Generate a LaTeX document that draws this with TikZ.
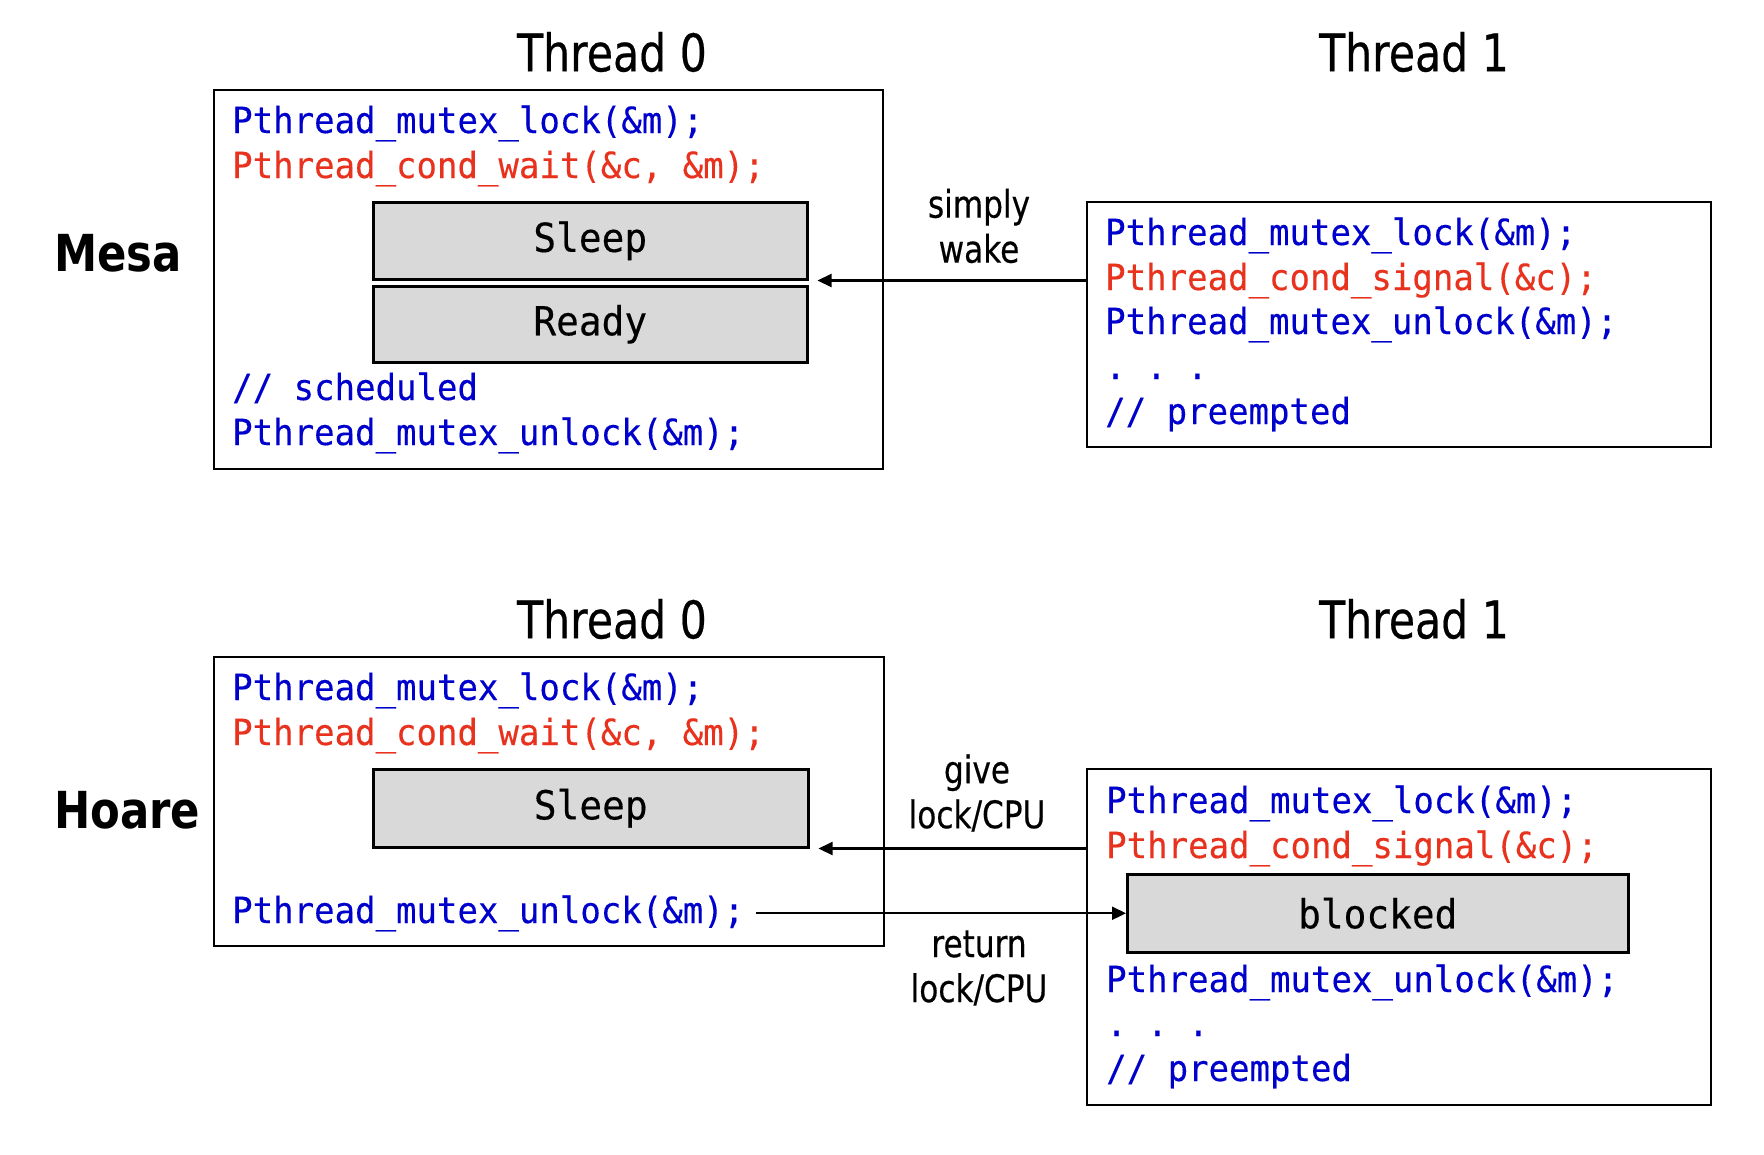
\documentclass[tikz,border=0pt]{standalone}
\usepackage{fontspec}
\newfontfamily\codefont[FakeStretch=0.945,FakeBold=0.3]{DejaVu Sans Mono}
\newfontfamily\labfont[FakeStretch=0.82,FakeBold=0.4]{DejaVu Sans}
\newfontfamily\headfont[FakeStretch=0.85]{DejaVu Sans Bold}
\usetikzlibrary{arrows.meta}
\definecolor{codeblue}{RGB}{0,0,204}
\definecolor{codered}{RGB}{232,50,30}
\definecolor{boxgray}{RGB}{217,217,217}
\newcommand{\dotsline}{.\kern20.5pt.\kern20.5pt.}
\tikzset{
  frame/.style={draw=black, line width=2pt, rectangle, inner sep=0pt, anchor=north west},
  graybox/.style={draw=black, line width=2.5pt, fill=boxgray, rectangle, inner sep=0pt, anchor=north west, text=black, font=\codefont\fontsize{40}{44}\selectfont},
  codeline/.style={anchor=base west, inner sep=0pt, font=\codefont\fontsize{36}{40}\selectfont},
  blueline/.style={codeline, text=codeblue},
  redline/.style={codeline, text=codered},
  threadtitle/.style={inner sep=0pt, font=\labfont\fontsize{52}{60}\selectfont},
  headlabel/.style={inner sep=0pt, anchor=west, font=\headfont\fontsize{51}{60}\selectfont},
  arrlabel/.style={inner sep=0pt, align=center, font=\labfont\fontsize{38}{45}\selectfont},
  arr/.style={line width=2.2pt, -{Triangle[length=14pt,width=13pt]}},
}
\begin{document}
\begin{tikzpicture}[x=1pt,y=-1pt]
\useasboundingbox (0,0) rectangle (1764,1154);
% ---------------- Mesa ----------------
\node[threadtitle] (mt0) at (612,52) {Thread 0};
\node[threadtitle] (mt1) at (1414,52) {Thread 1};
\node[headlabel] (mesa) at (54,253) {Mesa};
\node[frame, minimum width=669pt, minimum height=379pt] (m0) at (213,89) {};
\node[blueline] (m0a) at (232,133) {Pthread\_mutex\_lock(\&m);};
\node[redline] (m0b) at (232,178) {Pthread\_cond\_wait(\&c, \&m);};
\node[graybox, minimum width=434pt, minimum height=77pt] (msleep) at (372,201) {Sleep};
\node[graybox, minimum width=434pt, minimum height=76pt] (mready) at (372,285) {Ready};
\node[blueline] (m0c) at (232,400) {// scheduled};
\node[blueline] (m0d) at (232,445) {Pthread\_mutex\_unlock(\&m);};
\node[frame, minimum width=624pt, minimum height=245pt] (m1) at (1086,201) {};
\node[blueline] (m1a) at (1105,245) {Pthread\_mutex\_lock(\&m);};
\node[redline] (m1b) at (1105,290) {Pthread\_cond\_signal(\&c);};
\node[blueline] (m1c) at (1105,334) {Pthread\_mutex\_unlock(\&m);};
\node[blueline] (m1d) at (1105,379) {\dotsline};
\node[blueline] (m1e) at (1105,424) {// preempted};
\node[arrlabel] (wake) at (979,226) {simply\\wake};
\draw[arr] (m1.west |- msleep.south) -- ([xshift=9pt]msleep.south east);
% ---------------- Hoare ----------------
\node[threadtitle] (ht0) at (612,619) {Thread 0};
\node[threadtitle] (ht1) at (1414,619) {Thread 1};
\node[headlabel] (hoare) at (54,810) {Hoare};
\node[frame, minimum width=670pt, minimum height=289pt] (h0) at (213,656) {};
\node[blueline] (h0a) at (232,700) {Pthread\_mutex\_lock(\&m);};
\node[redline] (h0b) at (232,745) {Pthread\_cond\_wait(\&c, \&m);};
\node[graybox, minimum width=435pt, minimum height=78pt] (hsleep) at (372,768) {Sleep};
\node[blueline] (hunlock) at (232,923) {Pthread\_mutex\_unlock(\&m);};
\node[frame, minimum width=624pt, minimum height=336pt] (h1) at (1086,768) {};
\node[blueline] (h1a) at (1106,813) {Pthread\_mutex\_lock(\&m);};
\node[redline] (h1b) at (1106,858) {Pthread\_cond\_signal(\&c);};
\node[graybox, minimum width=501pt, minimum height=78pt] (hblocked) at (1126,873) {blocked};
\node[blueline] (h1c) at (1106,992) {Pthread\_mutex\_unlock(\&m);};
\node[blueline] (h1d) at (1106,1036) {\dotsline};
\node[blueline] (h1e) at (1106,1081) {// preempted};
\node[arrlabel] (give) at (977,793) {give\\lock/CPU};
\node[arrlabel] (ret) at (979,968) {return\\lock/CPU};
\draw[arr] (h1.west |- hsleep.south) -- ([xshift=9pt]hsleep.south east);
\draw[arr] ([xshift=12pt]hunlock.east |- hblocked.west) -- (hblocked.west);
\end{tikzpicture}
\end{document}
